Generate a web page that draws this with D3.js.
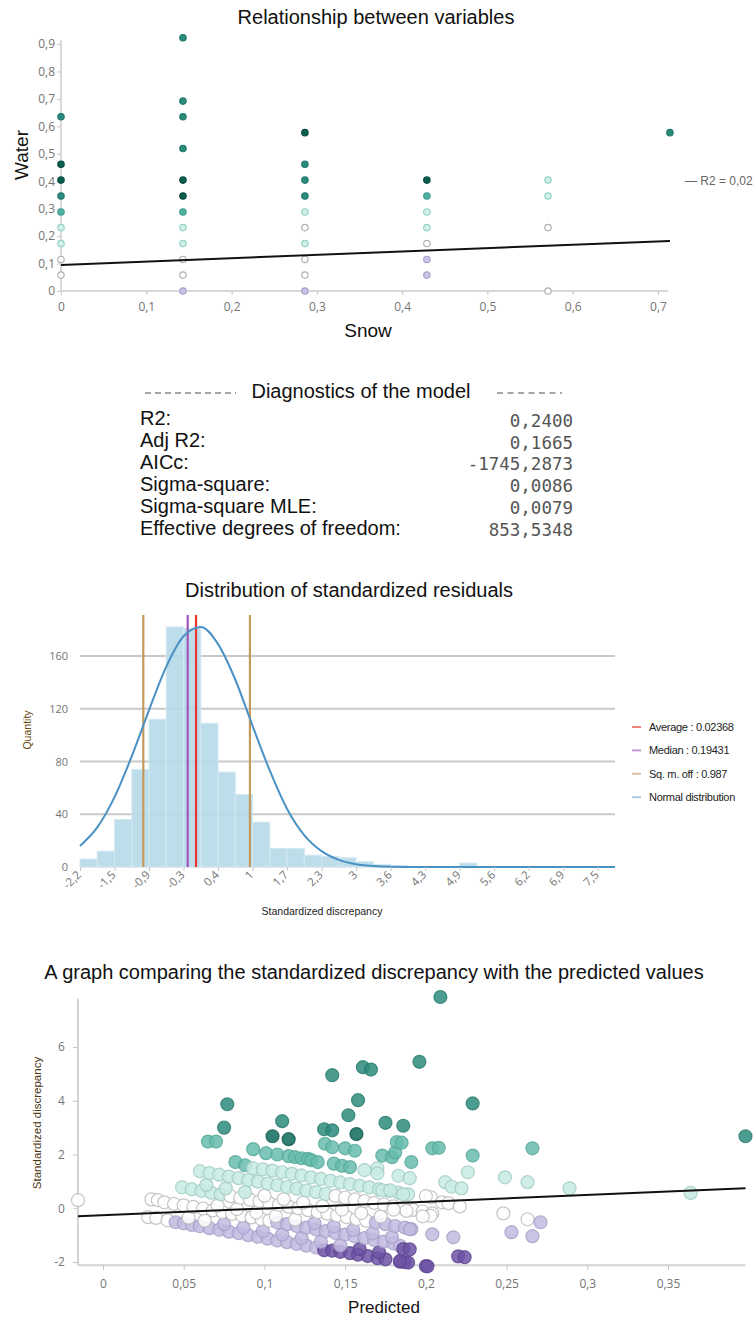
<!DOCTYPE html>
<html>
<head>
<meta charset="utf-8">
<script src="https://cdn.jsdelivr.net/npm/d3@7/dist/d3.min.js"></script>
<style>
  body { margin: 0; background: #fff; }
  svg { display: block; font-family: "Liberation Sans", Arial, sans-serif; }
</style>
</head>
<body>
<svg id="chart" width="755" height="1320"></svg>
<script>
// ---------- data ----------
// relationship chart: [snow, water, colour class]
var snowTicks = [0, 0.1, 0.2, 0.3, 0.4, 0.5, 0.6, 0.7];
var waterTicks = [0, 0.1, 0.2, 0.3, 0.4, 0.5, 0.6, 0.7, 0.8, 0.9];
var relationPoints = [
	[0, 0.635, 5], [0, 0.462, 6], [0, 0.404, 6], [0, 0.346, 5], [0, 0.288, 4],
	[0, 0.231, 3], [0, 0.173, 3], [0, 0.115, 2], [0, 0.058, 2],
	[0.143, 0.923, 5], [0.143, 0.692, 5], [0.143, 0.635, 5], [0.143, 0.519, 5],
	[0.143, 0.404, 6], [0.143, 0.346, 6], [0.143, 0.288, 4], [0.143, 0.231, 3],
	[0.143, 0.173, 3], [0.143, 0.115, 2], [0.143, 0.058, 2], [0.143, 0, 1],
	[0.286, 0.577, 6], [0.286, 0.462, 5], [0.286, 0.404, 5], [0.286, 0.346, 5],
	[0.286, 0.288, 3], [0.286, 0.231, 2], [0.286, 0.173, 3], [0.286, 0.115, 2],
	[0.286, 0.058, 2], [0.286, 0, 1],
	[0.429, 0.404, 6], [0.429, 0.346, 4], [0.429, 0.288, 3], [0.429, 0.231, 3],
	[0.429, 0.173, 2], [0.429, 0.115, 1], [0.429, 0.058, 1],
	[0.571, 0.404, 3], [0.571, 0.346, 3], [0.571, 0.231, 2], [0.571, 0, 2],
	[0.714, 0.577, 5]
];
var relationFitX = [0, 0.714];
var relationFitY = [0.095, 0.1825];

// model diagnostics
var diagLabels = ["R2:", "Adj R2:", "AICc:", "Sigma-square:", "Sigma-square MLE:", "Effective degrees of freedom:"];
var diagValues = ["0,2400", "0,1665", "-1745,2873", "0,0086", "0,0079", "853,5348"];

// histogram of standardized residuals
var binStart = -2.2, binWidth = 0.325;
var residCounts = [6, 12, 36, 74, 112, 182, 181, 109, 72, 55, 34, 14, 14, 9, 8, 7, 4, 2, 1, 0, 0, 0, 3, 0, 0, 0, 0, 0, 0, 0, 0];
var histTicks = [-2.2, -1.55, -0.9, -0.25, 0.4, 1.05, 1.7, 2.35, 3, 3.65, 4.3, 4.95, 5.6, 6.25, 6.9, 7.55];
var histTickLabels = ["-2,2", "-1,5", "-0,9", "-0,3", "0,4", "1", "1,7", "2,3", "3", "3,6", "4,3", "4,9", "5,6", "6,2", "6,9", "7,5"];
var histYTicks = [0, 40, 80, 120, 160];
var normalX = [-2.2, -1.875, -1.55, -1.225, -0.9, -0.575, -0.25, 0.075, 0.4, 0.725, 1.05, 1.375, 1.7, 2.025, 2.35, 2.675, 3.0, 3.325, 3.65, 4.3, 5.0, 6.0, 7.0, 7.875];
var normalY = [16, 30, 53, 84, 119, 152, 175, 182, 169, 142, 107, 73, 44, 24, 12, 5.4, 2.1, 0.8, 0.25, 0, 0, 0, 0, 0];
var refValues = [-0.015, -0.172, -1.008, 1.0];   // average, median, -sd, +sd (as drawn)
var legendNames = ["Average : 0.02368", "Median : 0.19431", "Sq. m. off : 0.987", "Normal distribution"];

// standardized discrepancy vs predicted: [predicted, residual]
var bandK0 = [[0.028,-0.33],[0.033,-0.36],[0.040,-0.45],[0.045,-0.52],[0.050,-0.56],[0.055,-0.62],[0.060,-0.67],[0.066,-0.74],[0.072,-0.80],[0.078,-0.87],[0.084,-0.93],[0.090,-1.00],[0.096,-1.06],[0.102,-1.13],[0.108,-1.20],[0.114,-1.26],[0.120,-1.33],[0.126,-1.39],[0.132,-1.46],[0.137,-1.56],[0.142,-1.58],[0.147,-1.62],[0.153,-1.67],[0.158,-1.73],[0.164,-1.78],[0.170,-1.86],[0.175,-1.90],[0.184,-1.99],[0.187,-2.01],[0.189,-2.02],[0.200,-2.15]];
var bandK0b = [[0.053,-0.35],[0.063,-0.46],[0.075,-0.59],[0.087,-0.72],[0.099,-0.85],[0.111,-0.98],[0.123,-1.12],[0.135,-1.25],[0.147,-1.38],[0.159,-1.52],[0.171,-1.64]];
var bandK1 = [[0.030,0.33],[0.034,0.30],[0.038,0.22],[0.044,0.16],[0.050,0.11],[0.056,0.05],[0.062,-0.01],[0.068,-0.08],[0.074,-0.14],[0.080,-0.21],[0.086,-0.27],[0.092,-0.34],[0.098,-0.40],[0.103,-0.46],[0.108,-0.53],[0.114,-0.59],[0.120,-0.66],[0.126,-0.72],[0.132,-0.79],[0.138,-0.85],[0.144,-0.92],[0.150,-0.98],[0.156,-1.05],[0.162,-1.11],[0.168,-1.18],[0.174,-1.24],[0.180,-1.31],[0.184,-1.40],[0.186,-1.52],[0.190,-1.53]];
var bandK1b = [[0.071,0.10],[0.083,-0.03],[0.095,-0.16],[0.107,-0.29],[0.119,-0.42],[0.131,-0.55],[0.143,-0.68],[0.155,-0.81],[0.167,-0.94],[0.179,-1.07]];
var bandK2 = [[0.049,0.78],[0.055,0.71],[0.061,0.65],[0.067,0.58],[0.073,0.52],[0.079,0.45],[0.085,0.39],[0.091,0.32],[0.097,0.26],[0.103,0.19],[0.109,0.13],[0.115,0.06],[0.121,0.00],[0.127,-0.07],[0.133,-0.14],[0.139,-0.20],[0.145,-0.27],[0.151,-0.33],[0.157,-0.40],[0.163,-0.46],[0.169,-0.53],[0.175,-0.59],[0.181,-0.66],[0.187,-0.72],[0.191,-0.78],[0.204,-0.97],[0.217,-1.08]];
var bandK2b = [[0.064,0.87],[0.076,0.74],[0.088,0.60],[0.100,0.47],[0.112,0.34],[0.124,0.21],[0.136,0.08],[0.148,-0.05],[0.160,-0.18],[0.172,-0.31]];
var bandK3 = [[0.060,1.38],[0.066,1.31],[0.072,1.25],[0.078,1.18],[0.084,1.12],[0.090,1.05],[0.096,0.99],[0.102,0.92],[0.108,0.86],[0.114,0.79],[0.120,0.73],[0.126,0.66],[0.132,0.60],[0.138,0.53],[0.144,0.46],[0.150,0.40],[0.156,0.33],[0.162,0.27],[0.168,0.20],[0.174,0.14],[0.180,0.07],[0.186,0.01],[0.192,-0.06],[0.198,-0.12],[0.204,-0.19]];
var bandK3b = [[0.082,1.72],[0.088,1.60],[0.093,1.49],[0.099,1.45],[0.105,1.40],[0.111,1.34],[0.117,1.28],[0.123,1.22],[0.129,1.15],[0.135,1.09],[0.141,1.02],[0.147,0.96],[0.153,0.90],[0.159,0.84],[0.165,0.78],[0.171,0.71],[0.177,0.65],[0.183,0.58],[0.189,0.52],[0.203,0.41],[0.210,0.22],[0.214,0.19],[0.221,0.07]];
var bandK4 = [[0.093,2.20],[0.101,2.05],[0.108,2.00],[0.115,1.94],[0.119,1.90],[0.123,1.86],[0.127,1.84],[0.129,1.79],[0.133,1.72],[0.143,1.66],[0.148,1.58],[0.153,1.53],[0.162,1.42],[0.170,1.49],[0.170,1.30],[0.183,1.21],[0.190,1.12],[0.212,0.97],[0.216,0.80],[0.222,0.74],[0.226,1.34]];
var residExtra = [[-0.0155,0.30],[0.065,2.48],[0.070,2.48],[0.1375,2.40],[0.142,2.27],[0.150,2.23],[0.156,2.14],[0.173,1.96],[0.179,1.90],[0.181,2.07],[0.182,2.46],[0.185,2.44],[0.191,1.72],[0.204,2.23],[0.208,2.25],[0.229,1.96],[0.266,2.23],[0.249,1.15],[0.263,0.97],[0.289,0.74],[0.364,0.57],[0.173,0.67],[0.178,0.67],[0.186,0.52],[0.200,0.45],[0.248,-0.19],[0.263,-0.41],[0.203,-0.28],[0.198,-0.30],[0.188,-0.10],[0.180,-0.05],[0.271,-0.52],[0.253,-0.89],[0.266,-1.04],[0.190,-0.78],[0.220,-1.79],[0.224,-1.82],[0.201,-2.16],[0.184,-1.96]];
// outliers: [predicted, residual, colour class]
var residOutliers = [[0.075,3.0,5],[0.077,3.87,5],[0.111,3.24,5],[0.137,2.94,5],[0.142,2.90,5],[0.142,4.95,5],[0.152,3.46,5],[0.158,4.02,5],[0.161,5.25,5],[0.166,5.16,5],[0.175,3.18,5],[0.186,3.07,5],[0.196,5.45,5],[0.209,7.86,5],[0.229,3.90,5],[0.398,2.68,5],[0.105,2.68,6],[0.115,2.57,6],[0.157,2.76,6]];
var residFitX = [-0.0155, 0.398];
var residFitY = [-0.30, 0.74];
var predTicks = [0, 0.05, 0.1, 0.15, 0.2, 0.25, 0.3, 0.35];
var discTicks = [-2, 0, 2, 4, 6];

// ---------- helpers ----------
var locale = d3.formatLocale({decimal: ",", thousands: ".", grouping: [3], currency: ["", ""], minus: "-"});
var fmtComma = locale.format("~g");

var dotFill = ["#6e54a6", "#cbc4e3", "#ffffff", "#d3efe9", "#52b0a1", "#2a8a7b", "#0b5e4f"];
var dotStroke = ["#5a4590", "#a89fcf", "#b0b0b0", "#93d1c5", "#40a091", "#237a6c", "#084c40"];
var bigFill = ["#6e54a6", "#c2bae0", "#ffffff", "#c8ebe4", "#66bcad", "#2d8b7d", "#0e6b5b"];
var bigStroke = ["#5b468f", "#a59dc6", "#b8b8b8", "#9fcac2", "#55a799", "#287a6e", "#0b584b"];

function residClass(r) {
	return r < -1.5 ? 0 : r < -0.5 ? 1 : r < 0.5 ? 2 : r < 1.5 ? 3 : r < 2.5 ? 4 : 5;
}

function styleAxis(g, size) {
	g.select(".domain").remove();
	g.selectAll(".tick line").attr("stroke", "#c8c8c8");
	g.selectAll(".tick text")
		.attr("fill", "#747474")
		.style("font-family", '"Open Sans", sans-serif')
		.style("font-size", size + "px");
}

var svg = d3.select("#chart");

// ---------- relationship between variables ----------
var x1 = d3.scaleLinear().domain([0, 0.7]).range([61, 658]);
var y1 = d3.scaleLinear().domain([0, 0.9]).range([291, 44]);
var rel = svg.append("g");

rel.append("text").attr("x", 376).attr("y", 24).attr("text-anchor", "middle")
	.attr("font-size", 20).attr("fill", "#111").text("Relationship between variables");

rel.append("line")
	.attr("x1", x1(0)).attr("x2", x1(0.712)).attr("y1", y1(0)).attr("y2", y1(0))
	.attr("stroke", "#d8d8d8").attr("stroke-width", 2);
rel.append("line")
	.attr("x1", x1(0)).attr("x2", x1(0)).attr("y1", y1(0)).attr("y2", y1(0.915))
	.attr("stroke", "#d8d8d8").attr("stroke-width", 2);
rel.append("g").attr("transform", "translate(0," + y1(0) + ")")
	.call(d3.axisBottom(x1).tickValues(snowTicks).tickFormat(fmtComma).tickSize(4).tickPadding(7))
	.call(styleAxis, 12);
rel.append("g").attr("transform", "translate(" + x1(0) + ",0)")
	.call(d3.axisLeft(y1).tickValues(waterTicks).tickFormat(fmtComma).tickSize(4).tickPadding(2))
	.call(styleAxis, 12);

rel.append("g").selectAll("circle").data(relationPoints).join("circle")
	.attr("cx", function(d) { return x1(d[0]); })
	.attr("cy", function(d) { return y1(d[1]); })
	.attr("r", 3.2)
	.attr("fill", function(d) { return dotFill[d[2]]; })
	.attr("stroke", function(d) { return dotStroke[d[2]]; })
	.attr("stroke-width", 1.2);

rel.append("path")
	.attr("d", d3.line()(relationFitX.map(function(v, i) { return [x1(v), y1(relationFitY[i])]; })))
	.attr("stroke", "#111").attr("stroke-width", 2).attr("fill", "none");

rel.append("text").attr("x", 685).attr("y", 185).attr("font-size", 12).attr("fill", "#666")
	.text("\u2014 R2 = 0,02");

rel.append("text").attr("transform", "translate(28,155) rotate(-90)").attr("text-anchor", "middle")
	.attr("font-size", 19).attr("fill", "#111").text("Water");
rel.append("text").attr("x", 368).attr("y", 337).attr("text-anchor", "middle")
	.attr("font-size", 19).attr("fill", "#111").text("Snow");

// ---------- diagnostics ----------
var diag = svg.append("g");
diag.append("text").attr("x", 361).attr("y", 398).attr("text-anchor", "middle")
	.attr("font-size", 20).attr("fill", "#111").text("Diagnostics of the model");
diag.append("line").attr("x1", 145).attr("x2", 236).attr("y1", 393).attr("y2", 393)
	.attr("stroke", "#888").attr("stroke-width", 1.3).attr("stroke-dasharray", "6,4");
diag.append("line").attr("x1", 497).attr("x2", 562).attr("y1", 393).attr("y2", 393)
	.attr("stroke", "#888").attr("stroke-width", 1.3).attr("stroke-dasharray", "6,4.5");
diagLabels.forEach(function(label, i) {
	diag.append("text").attr("x", 140).attr("y", 425 + i * 22)
		.attr("font-size", 20).attr("fill", "#111").text(label);
	diag.append("text").attr("x", 573).attr("y", 427 + i * 21.7).attr("text-anchor", "end")
		.attr("font-size", 17.5).attr("fill", "#555")
		.style("font-family", '"DejaVu Sans Mono", monospace').text(diagValues[i]);
});

// ---------- distribution of standardized residuals ----------
var hx = d3.scaleLinear().domain([-2.2, 7.875]).range([80, 615]);
var hy = d3.scaleLinear().domain([0, 160]).range([867, 656]);
var hist = svg.append("g");

hist.append("text").attr("x", 349).attr("y", 597).attr("text-anchor", "middle")
	.attr("font-size", 20).attr("fill", "#111").text("Distribution of standardized residuals");

hist.append("g").selectAll("line").data(histYTicks.slice(1)).join("line")
	.attr("x1", hx(-2.2)).attr("x2", hx(7.875))
	.attr("y1", function(d) { return hy(d); }).attr("y2", function(d) { return hy(d); })
	.attr("stroke", "#c9c9c9").attr("stroke-width", 2);
hist.append("line").attr("x1", hx(-2.2)).attr("x2", hx(7.875)).attr("y1", hy(0)).attr("y2", hy(0))
	.attr("stroke", "#d0d0d0").attr("stroke-width", 1);

hist.append("g").selectAll("rect").data(residCounts).join("rect")
	.attr("x", function(d, i) { return hx(binStart + i * binWidth); })
	.attr("width", function(d, i) { return hx(binStart + (i + 1) * binWidth) - hx(binStart + i * binWidth); })
	.attr("y", function(d) { return hy(d); })
	.attr("height", function(d) { return hy(0) - hy(d); })
	.attr("fill", "#b7d9e9").attr("fill-opacity", 0.9)
	.attr("stroke", "#d3e8f2").attr("stroke-width", 1);

var refColors = ["#e8362c", "#9d55b8", "#c39a5c", "#c39a5c"];
hist.append("g").selectAll("line").data(refValues).join("line")
	.attr("x1", function(d) { return hx(d); }).attr("x2", function(d) { return hx(d); })
	.attr("y1", 615).attr("y2", hy(0))
	.attr("stroke", function(d, i) { return refColors[i]; }).attr("stroke-width", 2.2);

hist.append("path")
	.attr("d", d3.line().curve(d3.curveMonotoneX)
		.x(function(d) { return hx(d[0]); }).y(function(d) { return hy(d[1]); })
		(normalX.map(function(v, i) { return [v, normalY[i]]; })))
	.attr("fill", "none").attr("stroke", "#4a91c4").attr("stroke-width", 2);

hist.append("g").attr("transform", "translate(" + hx(-2.2) + ",0)")
	.call(d3.axisLeft(hy).tickValues(histYTicks).tickSize(0).tickPadding(12))
	.call(styleAxis, 11);

var hxAxis = hist.append("g").attr("transform", "translate(0," + hy(0) + ")")
	.call(d3.axisBottom(hx).tickValues(histTicks).tickFormat(function(d, i) { return histTickLabels[i]; }).tickSize(4))
	.call(styleAxis, 11.5);
hxAxis.selectAll(".tick text")
	.attr("x", -5).attr("y", 3).attr("dy", "0.35em")
	.attr("transform", "rotate(-45)").style("text-anchor", "end");

hist.append("text").attr("transform", "translate(31,730) rotate(-90)").attr("text-anchor", "middle")
	.attr("font-size", 10.5).attr("fill", "#6b4a12").text("Quantity");
hist.append("text").attr("x", 322).attr("y", 915).attr("text-anchor", "middle")
	.attr("font-size", 10.5).attr("fill", "#222").text("Standardized discrepancy");

var legendColors = ["#ef8478", "#c497d4", "#d8c2a2", "#a8cbe3"];
var legend = hist.append("g").selectAll("g").data(legendNames).join("g")
	.attr("transform", function(d, i) { return "translate(632," + (727 + i * 23.4) + ")"; });
legend.append("line").attr("x1", 0).attr("x2", 9)
	.attr("stroke", function(d, i) { return legendColors[i]; }).attr("stroke-width", 2);
legend.append("text").attr("x", 17).attr("dy", "0.35em")
	.attr("font-size", 11).attr("fill", "#222").attr("letter-spacing", -0.3)
	.text(function(d) { return d; });

// ---------- standardized discrepancy vs predicted ----------
var sx = d3.scaleLinear().domain([0, 0.35]).range([103, 668]);
var sy = d3.scaleLinear().domain([-2, 6]).range([1262, 1047]);
var sc = svg.append("g");

sc.append("text").attr("x", 374).attr("y", 979).attr("text-anchor", "middle")
	.attr("font-size", 20).attr("fill", "#111")
	.text("A graph comparing the standardized discrepancy with the predicted values");

sc.append("line").attr("x1", sx(-0.0155)).attr("x2", sx(0.398)).attr("y1", sy(-2.12)).attr("y2", sy(-2.12))
	.attr("stroke", "#d4d4d4").attr("stroke-width", 2);
sc.append("line").attr("x1", sx(-0.0155)).attr("x2", sx(-0.0155)).attr("y1", sy(-2.12)).attr("y2", sy(7.8))
	.attr("stroke", "#d4d4d4").attr("stroke-width", 2);
sc.append("g").attr("transform", "translate(0," + sy(-2.12) + ")")
	.call(d3.axisBottom(sx).tickValues(predTicks).tickFormat(fmtComma).tickSize(5).tickPadding(9))
	.call(styleAxis, 12);
sc.append("g").attr("transform", "translate(" + sx(-0.0155) + ",0)")
	.call(d3.axisLeft(sy).tickValues(discTicks).tickFormat(fmtComma).tickSize(5).tickPadding(8))
	.call(styleAxis, 12);

var residPoints = [].concat(bandK0, bandK0b, bandK1, bandK1b, bandK2, bandK2b, bandK3, bandK3b, bandK4, residExtra)
	.map(function(d) { return [d[0], d[1], residClass(d[1])]; })
	.concat(residOutliers);

sc.append("g").selectAll("circle").data(residPoints).join("circle")
	.attr("cx", function(d) { return sx(d[0]); })
	.attr("cy", function(d) { return sy(d[1]); })
	.attr("r", 6.5)
	.attr("fill", function(d) { return bigFill[d[2]]; })
	.attr("fill-opacity", 0.85)
	.attr("stroke", function(d) { return bigStroke[d[2]]; })
	.attr("stroke-opacity", 0.8)
	.attr("stroke-width", 1.2);

sc.append("path")
	.attr("d", d3.line()(residFitX.map(function(v, i) { return [sx(v), sy(residFitY[i])]; })))
	.attr("stroke", "#111").attr("stroke-width", 2).attr("fill", "none");

sc.append("text").attr("transform", "translate(41,1123) rotate(-90)").attr("text-anchor", "middle")
	.attr("font-size", 11.5).attr("fill", "#4a3510").text("Standardized discrepancy");
sc.append("text").attr("x", 384).attr("y", 1313).attr("text-anchor", "middle")
	.attr("font-size", 17).attr("fill", "#111").text("Predicted");
</script>
</body>
</html>
